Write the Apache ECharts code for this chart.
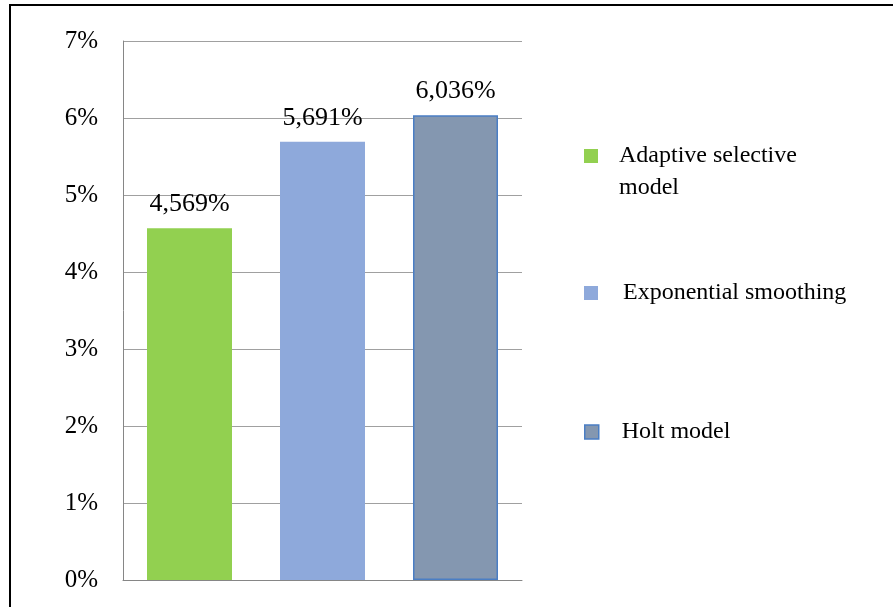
<!DOCTYPE html>
<html>
<head>
<meta charset="utf-8">
<script src="https://cdn.jsdelivr.net/npm/echarts@6/dist/echarts.min.js"></script>
<style>html,body{margin:0;padding:0;background:#fff;}#c{width:893px;height:607px;}</style>
</head>
<body>
<div id="c"></div>
<script>
const seriesNames = ['Adaptive selective model', 'Exponential smoothing', 'Holt model'];
const values = [4.569, 5.691, 6.036];
const yTicks = [0, 1, 2, 3, 4, 5, 6, 7];
const colors = ['#92D050', '#8EA9DB', '#8497B0'];
const FONT = "'Liberation Serif', 'Times New Roman', serif";

const chart = echarts.init(document.getElementById('c'));
const fmt = v => v.toFixed(3).replace('.', ',') + '%';

const series = seriesNames.map((name, i) => ({
  name,
  type: 'bar',
  barWidth: 85,
  barGap: '-100%',
  data: values.map((v, j) => (j === i ? v : '-')),
  itemStyle: i === 2 ? { color: colors[i], borderColor: '#4A7EC4', borderWidth: 1.5 } : { color: colors[i] },
  label: {
    show: true, position: 'top', distance: 11,
    fontFamily: FONT, fontSize: 26, color: '#000',
    formatter: p => fmt(p.value)
  }
}));

const legendTops = [108, 277, 416];
const legendPad = [[0, 0, 0, 16], [0, 0, 0, 20], [0, 0, 0, 18]];
const legends = seriesNames.map((name, i) => ({
  data: [{ name, itemStyle: i === 2 ? { color: colors[i], borderColor: '#4A7EC4', borderWidth: 1.5 } : { color: colors[i], borderWidth: 0 } }],
  orient: 'vertical',
  left: 584,
  top: legendTops[i],
  padding: 0,
  icon: 'rect',
  itemWidth: 14,
  itemHeight: 14,
  selectedMode: false,
  formatter: n => (n === 'Adaptive selective model' ? '\nAdaptive selective\nmodel' : n),
  textStyle: { fontFamily: FONT, fontSize: 24, color: '#000', lineHeight: 32, padding: legendPad[i] }
}));

chart.setOption({
  animation: false,
  backgroundColor: '#fff',
  grid: { left: 123, right: 371, top: 41, bottom: 27, containLabel: false },
  xAxis: {
    type: 'category',
    data: seriesNames,
    axisLine: { lineStyle: { color: '#868686', width: 1 } },
    axisTick: { show: false },
    axisLabel: { show: false }
  },
  yAxis: {
    type: 'value',
    min: yTicks[0], max: yTicks[yTicks.length - 1], interval: 1,
    axisLine: { show: true, lineStyle: { color: '#868686', width: 1 } },
    axisTick: { show: false },
    splitLine: { lineStyle: { color: '#A0A0A0', width: 1 } },
    axisLabel: { fontFamily: FONT, fontSize: 25, color: '#000', margin: 25, formatter: v => v + '%' }
  },
  legend: legends,
  series,
  graphic: [
    { type: 'line', shape: { x1: 9, y1: 5, x2: 893, y2: 5 }, style: { stroke: '#000', lineWidth: 2 } },
    { type: 'line', shape: { x1: 10, y1: 5, x2: 10, y2: 607 }, style: { stroke: '#000', lineWidth: 2 } }
  ]
});
</script>
</body>
</html>
